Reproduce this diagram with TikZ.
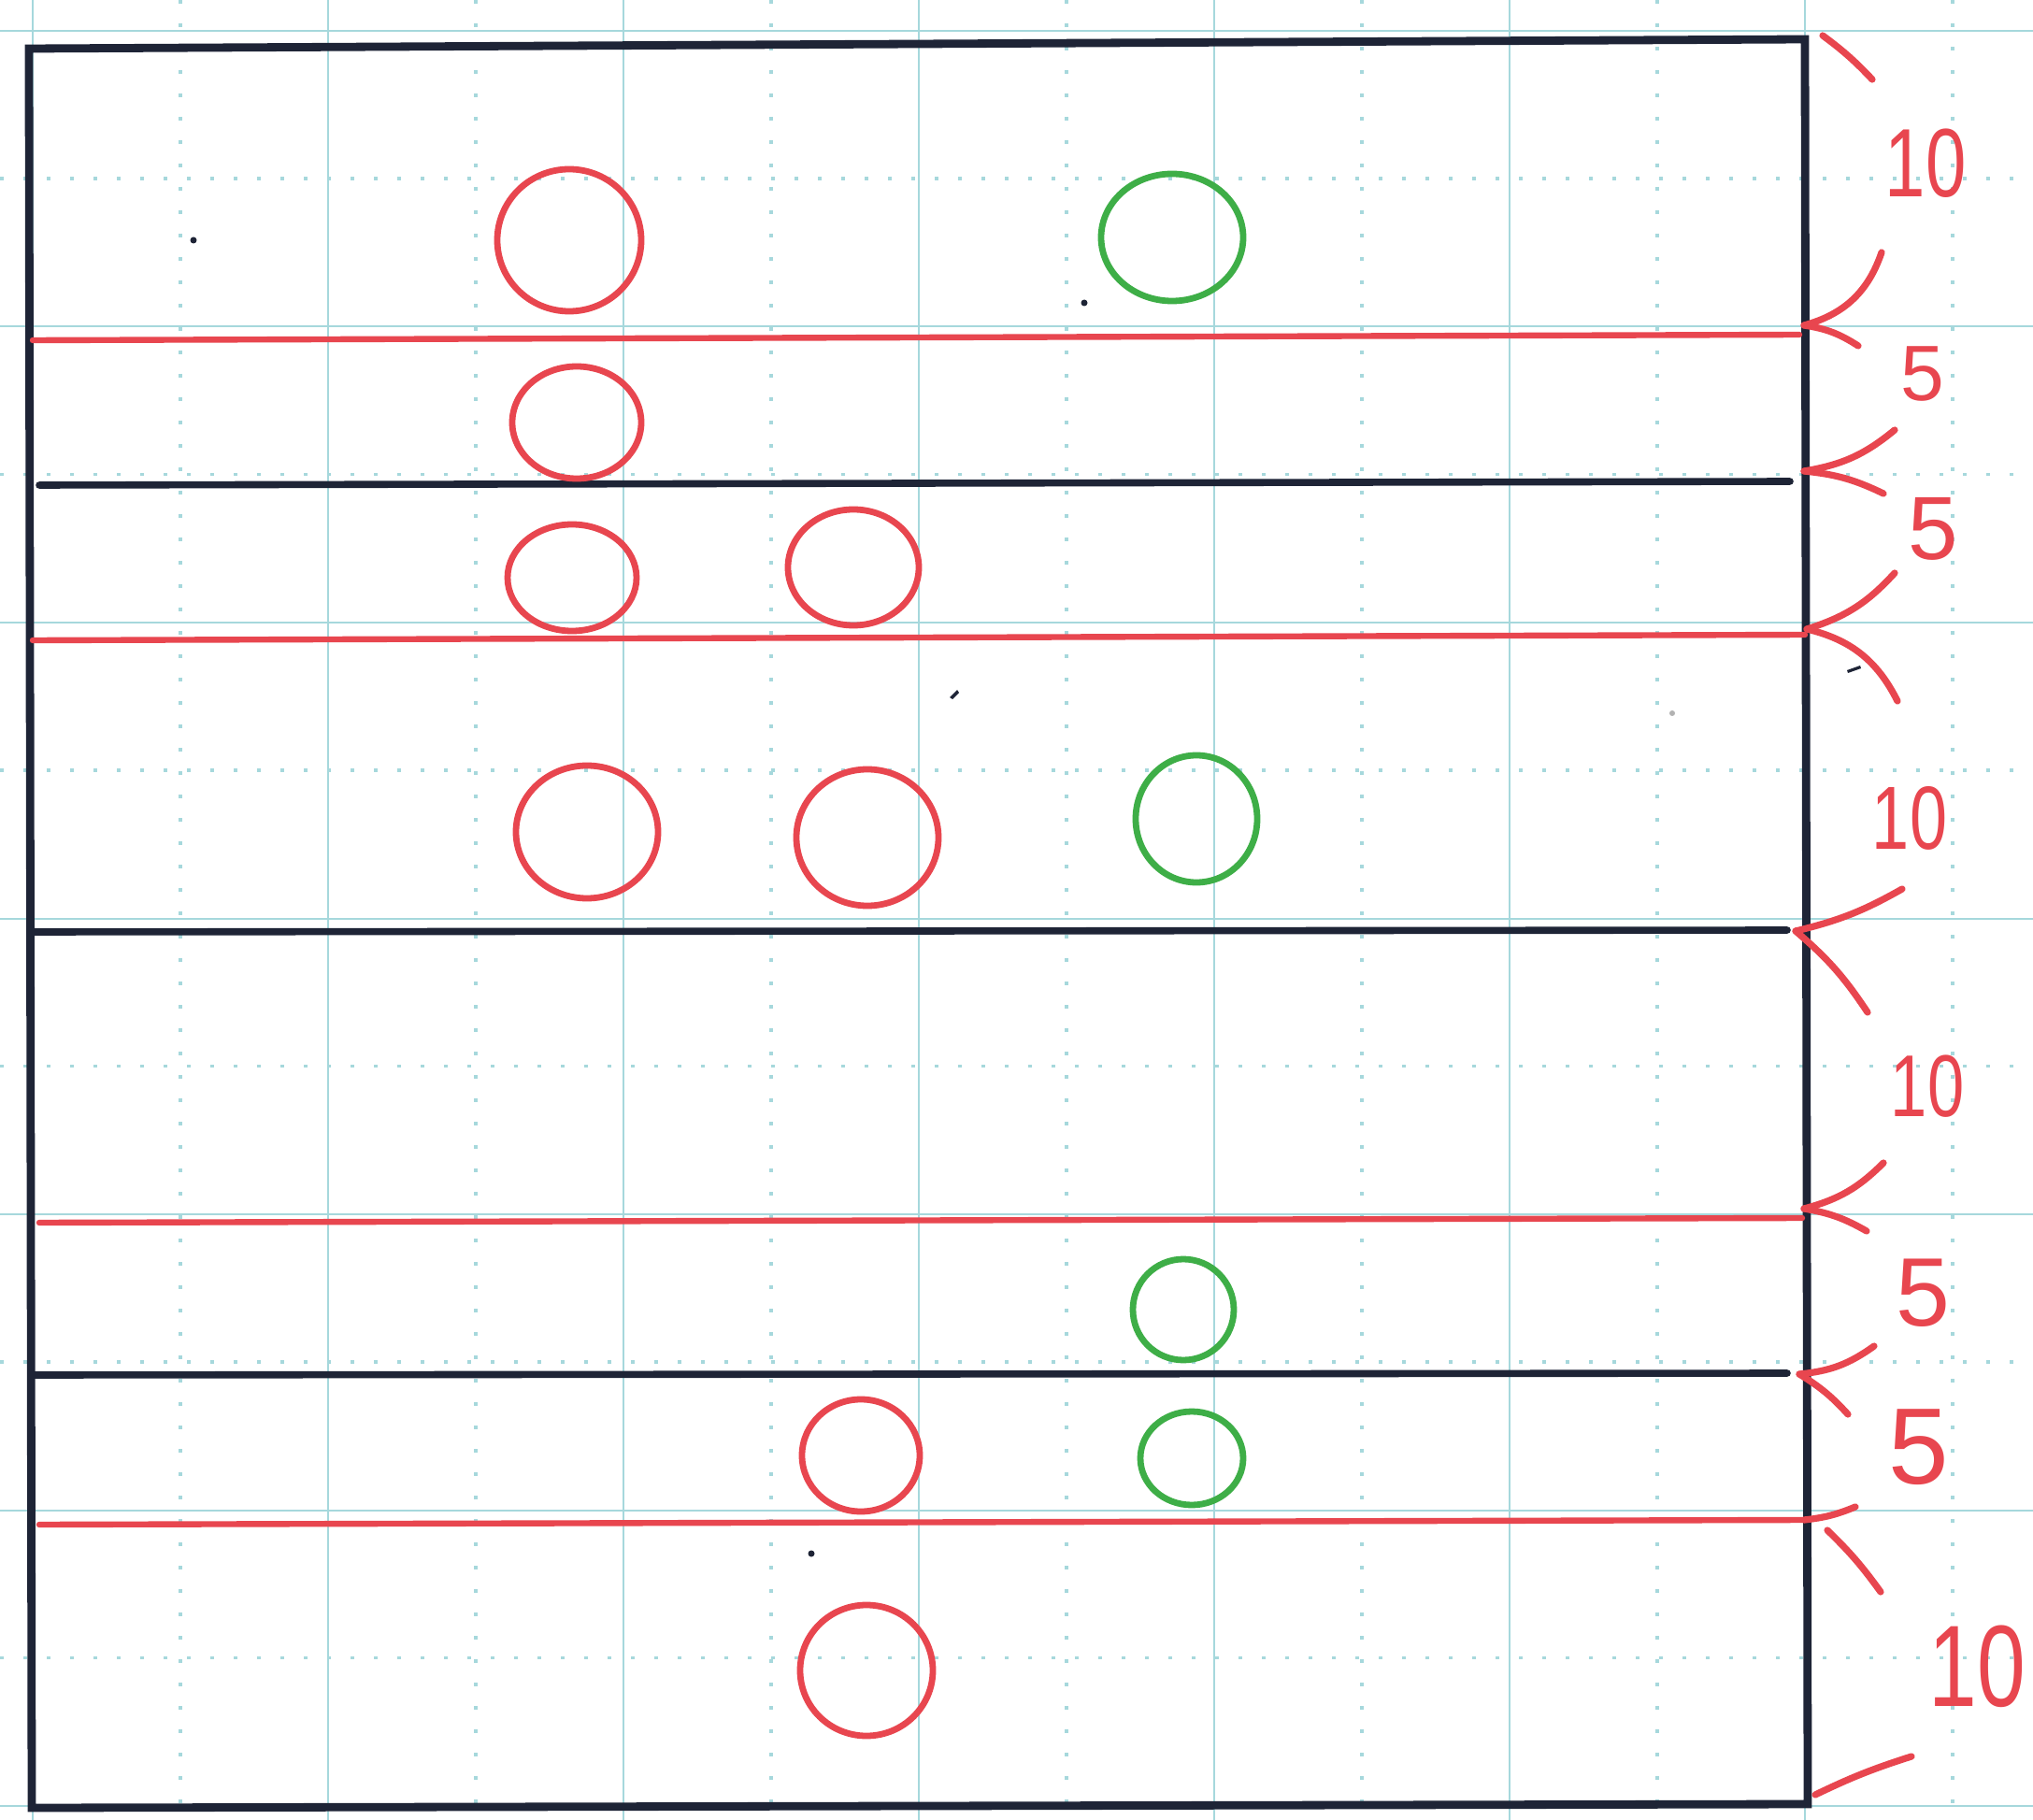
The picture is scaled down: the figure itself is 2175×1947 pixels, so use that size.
\documentclass[tikz,border=0pt]{standalone}
\usepackage{fontspec}
\setmainfont{Liberation Sans}
\definecolor{ink}{HTML}{1E2436}
\definecolor{pred}{HTML}{E8464F}
\definecolor{pgreen}{HTML}{3EAE47}
\definecolor{gridc}{HTML}{A6D8DC}
\tikzset{
  gridsolid/.style={draw=gridc, line width=0.5pt},
  griddot/.style={draw=gridc, line width=0.8pt, dash pattern=on 1pt off 5.25pt},
  boxline/.style={draw=ink, line width=2.2pt, line cap=round},
  blackline/.style={draw=ink, line width=1.9pt, line cap=round},
  redline/.style={draw=pred, line width=1.6pt, line cap=round},
  redring/.style={draw=pred, line width=1.7pt},
  greenring/.style={draw=pgreen, line width=1.7pt},
  armstroke/.style={draw=pred, line width=1.8pt, line cap=round},
  dimlabel/.style={text=pred, inner sep=0pt, font=\fontsize{#1}{#1}\selectfont},
  speck/.style={fill=ink, draw=none}
}
\begin{document}
\begin{tikzpicture}[x=0.25pt, y=-0.25pt]
\useasboundingbox (0,0) rectangle (2175,1947);
\fill[white] (0,0) rectangle (2175,1947);
% grid paper
\foreach \gx in {35,351,667,983,1299,1615,1931} \draw[gridsolid] (\gx,0) -- (\gx,1947);
\foreach \gx in {193,509,825,1141,1457,1773,2089} \draw[griddot] (\gx,0) -- (\gx,1947);
\foreach \gy in {33,349.5,666,982.5,1299,1615.5,1932} \draw[gridsolid] (0,\gy) -- (2175,\gy);
\foreach \gy in {191,507.5,824,1140.5,1457,1773.5} \draw[griddot] (0,\gy) -- (2175,\gy);
% outer box
\coordinate (tl) at (31,52);
\coordinate (tr) at (1931,42);
\coordinate (br) at (1934,1930);
\coordinate (bl) at (34,1934);
\draw[boxline] (tl) -- (tr) -- (br) -- (bl) -- cycle;
% horizontal lines
\draw[redline] (35,364) -- (1925,358);
\draw[blackline] (42,519) -- (1915,515);
\draw[redline] (35,685) -- (1931,679);
\draw[blackline] (32,997) -- (1912,995);
\draw[redline] (42,1308) -- (1928,1303);
\draw[blackline] (36,1471) -- (1912,1469);
\draw[redline] (42,1631) -- (1931,1626);
% circles
\draw[redring] (609,257) ellipse [x radius=77, y radius=76];
\draw[greenring] (1254,254) ellipse [x radius=76, y radius=68];
\draw[redring] (617,452) ellipse [x radius=69, y radius=60];
\draw[redring] (612,618) ellipse [x radius=69, y radius=57];
\draw[redring] (913,607) ellipse [x radius=70, y radius=62];
\draw[redring] (628,890) ellipse [x radius=76, y radius=71];
\draw[redring] (928,896) ellipse [x radius=76, y radius=73];
\draw[greenring] (1280,876) ellipse [x radius=65, y radius=68];
\draw[greenring] (1266,1401) ellipse [x radius=54, y radius=54];
\draw[redring] (921,1557) ellipse [x radius=63, y radius=60];
\draw[greenring] (1275,1560) ellipse [x radius=55, y radius=50];
\draw[redring] (927,1787) ellipse [x radius=71, y radius=70];
% dimension marks
\coordinate (t0a) at (1950,38);  \coordinate (t0b) at (2003,85);
\coordinate (v1) at (1930,348); \coordinate (v1u) at (2013,270); \coordinate (v1d) at (1988,370);
\coordinate (v2) at (1930,504); \coordinate (v2u) at (2027,460); \coordinate (v2d) at (2015,528);
\coordinate (v3) at (1933,673); \coordinate (v3u) at (2027,613); \coordinate (v3d) at (2030,750);
\coordinate (v4) at (1921,996); \coordinate (v4u) at (2035,951); \coordinate (v4d) at (1998,1083);
\coordinate (v5) at (1930,1293); \coordinate (v5u) at (2015,1244); \coordinate (v5d) at (1997,1317);
\coordinate (v6) at (1925,1470); \coordinate (v6u) at (2005,1440); \coordinate (v6d) at (1977,1513);
\coordinate (v7) at (1930,1626); \coordinate (v7u) at (1985,1612);
\coordinate (s7a) at (1955,1637); \coordinate (s7b) at (2012,1703);
\coordinate (b0a) at (1942,1920); \coordinate (b0b) at (2045,1879);
\draw[armstroke] (t0a) to[bend left=5] (t0b);
\draw[armstroke] (v1) to[bend right=28] (v1u);
\draw[armstroke] (v1) to[bend left=12] (v1d);
\draw[armstroke] (v2) to[bend right=15] (v2u);
\draw[armstroke] (v2) to[bend left=10] (v2d);
\draw[armstroke] (v3) to[bend right=15] (v3u);
\draw[armstroke] (v3) to[bend left=25] (v3d);
\draw[armstroke] (v4) to[bend right=8] (v4u);
\draw[armstroke] (v4) to[bend left=8] (v4d);
\draw[armstroke] (v5) to[bend right=15] (v5u);
\draw[armstroke] (v5) to[bend left=10] (v5d);
\draw[armstroke] (v6) to[bend right=15] (v6u);
\draw[armstroke] (v6) to[bend left=8] (v6d);
\draw[armstroke] (v7) to[bend right=8] (v7u);
\draw[armstroke] (s7a) to[bend left=5] (s7b);
\draw[armstroke] (b0a) to[bend left=4] (b0b);
% labels
\node[dimlabel=26pt, xscale=0.75] (l1) at (2060,175) {10};
\node[dimlabel=21pt] (l2) at (2057,400) {5};
\node[dimlabel=24pt] (l3) at (2068,566) {5};
\node[dimlabel=24pt, xscale=0.75] (l4) at (2043,875) {10};
\node[dimlabel=23.5pt, xscale=0.75] (l5) at (2062,1162) {10};
\node[dimlabel=26pt] (l6) at (2057,1383) {5};
\node[dimlabel=29pt] (l7) at (2053,1548) {5};
\node[dimlabel=31pt, xscale=0.75] (l8) at (2115,1783) {10};
% specks
\fill[speck] (207,257) circle [radius=3.5];
\fill[speck] (1160,324) circle [radius=3.5];
\fill[speck] (1016,746) -- (1024,738) -- (1026,741) -- (1019,748) -- cycle;
\fill[speck] (868,1662) circle [radius=3.5];
\fill[speck] (1976,717) -- (1990,712) -- (1991,715) -- (1977,720) -- cycle;
\fill[gray!60] (1789,763) circle [radius=3];
\end{tikzpicture}
\end{document}
